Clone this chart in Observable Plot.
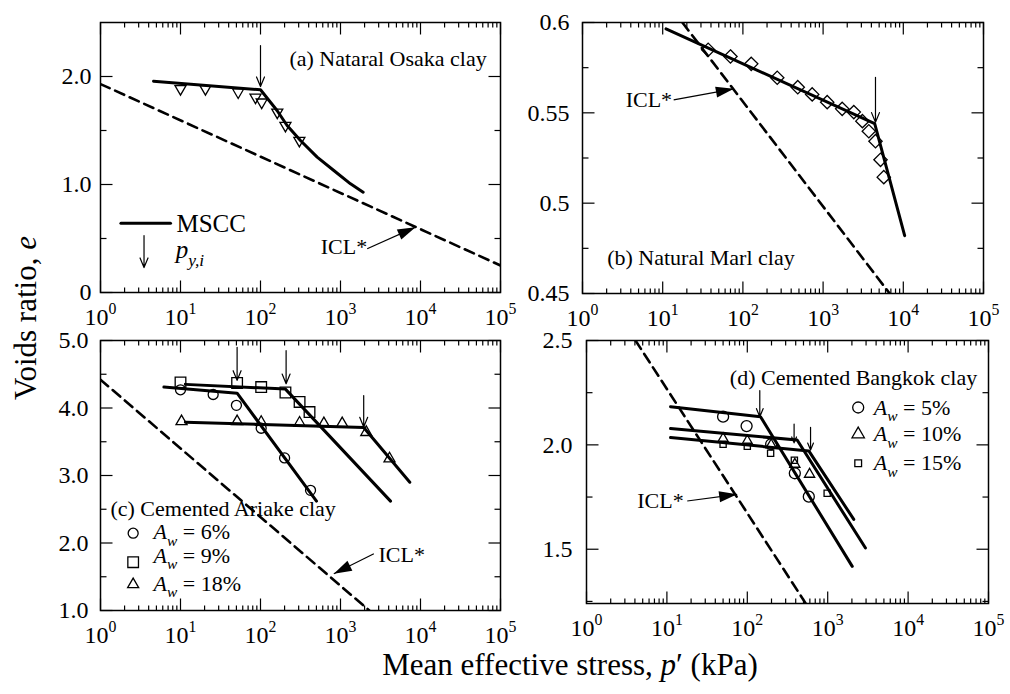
<!DOCTYPE html>
<html>
<head>
<meta charset="utf-8">
<script src="https://cdn.jsdelivr.net/npm/d3@7"></script>
<script src="https://cdn.jsdelivr.net/npm/@observablehq/plot@0.6"></script>
<style>
html, body { margin: 0; padding: 0; background: #fff; }
#fig { position: relative; width: 1010px; height: 694px; overflow: hidden; font-family: "Liberation Serif", "Times New Roman", serif; color: #000; }
.panel { position: absolute; }
.panel svg { overflow: visible; display: block; }
#ylab { position: absolute; left: 26px; top: 318px; transform: translate(-50%, -50%) rotate(-90deg); font-size: 31px; white-space: nowrap; }
#xlab { position: absolute; left: 570px; top: 665px; transform: translate(-50%, -50%); font-size: 31px; white-space: nowrap; }
</style>
</head>
<body>
<div id="fig">
  <div id="ylab">Voids ratio, <i>e</i></div>
  <div id="xlab">Mean effective stress, <i>p</i>′ (kPa)</div>
</div>
<script>
// ================= DATA =================
const decadeTicks = [1, 10, 100, 1000, 10000, 100000];
const decadeLabels = ["10^0", "10^1", "10^2", "10^3", "10^4", "10^5"];

// (a) Natural Osaka clay
const aMsccP = [4.6, 100, 161, 215, 316, 511, 825, 1334, 1920];
const aMsccE = [1.956, 1.877, 1.685, 1.546, 1.407, 1.253, 1.130, 1.006, 0.929];
const aTestP = [10, 20.5, 52.6, 86.6, 103.5, 162, 205, 306];
const aTestE = [1.886, 1.886, 1.855, 1.808, 1.762, 1.669, 1.546, 1.407];
const aIclP = [1, 100000];
const aIclE = [1.93, 0.25];
const aYieldP = [100];
const aYieldFrom = [2.287];
const aYieldTo = [1.907];
const aYTicks = [0, 1, 2];
const aYLabels = ["0", "1.0", "2.0"];
const aYMinor = [0.5, 1.5];

// (b) Natural Marl clay
const bMsccP = [11, 4400, 10400];
const bMsccE = [0.5965, 0.544, 0.482];
const bTestP = [36.9, 70, 127, 268, 483, 731, 1125, 1730, 2415, 3090, 3715, 4500, 5200, 5710];
const bTestE = [0.5849, 0.5812, 0.5771, 0.5694, 0.5642, 0.5602, 0.5559, 0.5522, 0.5504, 0.5454, 0.5398, 0.5343, 0.524, 0.5144];
const bIclP = [17.6, 6760];
const bIclE = [0.6, 0.45];
const bYieldP = [4500];
const bYieldFrom = [0.5697];
const bYieldTo = [0.5448];
const bYTicks = [0.45, 0.5, 0.55, 0.6];
const bYLabels = ["0.45", "0.5", "0.55", "0.6"];
const bYMinor = [0.475, 0.525, 0.575];

// (c) Cemented Ariake clay
const cSeries = ["A_w = 6%", "A_w = 9%", "A_w = 18%"];
const cMscc6P = [6.2, 51, 501];      const cMscc6E = [4.31, 4.22, 2.62];
const cMscc9P = [11.5, 205, 4220];   const cMscc9E = [4.35, 4.28, 2.62];
const cMscc18P = [11.5, 1950, 7350]; const cMscc18E = [3.79, 3.71, 2.90];
const cTest6P = [10, 25.6, 50, 102, 200, 422];
const cTest6E = [4.27, 4.20, 4.04, 3.70, 3.26, 2.78];
const cTest9P = [10, 51, 102, 205, 308, 410];
const cTest9E = [4.38, 4.37, 4.31, 4.23, 4.09, 3.94];
const cTest18P = [10.3, 51, 102, 308, 620, 1050, 2100, 4100];
const cTest18E = [3.80, 3.80, 3.79, 3.78, 3.77, 3.77, 3.64, 3.25];
const cIclP = [1, 2290];
const cIclE = [4.42, 1.0];
const cYieldP = [51, 209, 1950];
const cYieldFrom = [4.90, 4.85, 4.185];
const cYieldTo = [4.41, 4.36, 3.72];
const cYTicks = [1, 2, 3, 4, 5];
const cYLabels = ["1.0", "2.0", "3.0", "4.0", "5.0"];
const cYMinor = [1.5, 2.5, 3.5, 4.5];
const cLegSymE = [2.145, 1.716, 1.385];
const cLegTextE = [2.16, 1.815, 1.396];

// (d) Cemented Bangkok clay
const dSeries = ["A_w = 5%", "A_w = 10%", "A_w = 15%"];
const dMscc5P = [11.1, 146, 2020];   const dMscc5E = [2.183, 2.135, 1.418];
const dMscc10P = [11.1, 417, 2950];  const dMscc10E = [2.078, 2.023, 1.506];
const dMscc15P = [11.1, 582, 2110];  const dMscc15E = [2.035, 1.971, 1.643];
const dTest5P = [50, 98, 198, 390, 582];
const dTest5E = [2.135, 2.09, 2.003, 1.864, 1.752];
const dTest10P = [50, 100, 198, 390, 595];
const dTest10E = [2.03, 2.019, 2.0, 1.907, 1.859];
const dTest15P = [50, 100, 195, 385, 985];
const dTest15E = [2.003, 1.993, 1.96, 1.926, 1.768];
const dIclP = [4.07, 530];
const dIclE = [2.5, 1.242];
const dYieldP = [143, 382, 612];
const dYieldFrom = [2.26, 2.10, 2.084];
const dYieldTo = [2.135, 2.01, 1.975];
const dYTicks = [1.5, 2.0, 2.5];
const dYLabels = ["1.5", "2.0", "2.5"];
const dYMinor = [1.25, 1.75, 2.25];
const dLegE = [2.179, 2.051, 1.912];

// annotation anchors (data coordinates)
const titles = ["(a) Nataral Osaka clay", "(b) Natural Marl clay", "(c) Cemented Ariake clay", "(d) Cemented Bangkok clay"];
const titleP = [230, 2.03, 1.33, 60.6];
const titleE = [2.167, 0.4694, 2.497, 2.322];
const iclTextP = [2155, 13.1, 2985, 16.2];
const iclTextE = [0.426, 0.557, 1.82, 1.732];
const iclAnchor = ["end", "end", "start", "end"];
const iclFromP = [2155, 13.7, 2610, 17.9];
const iclFromE = [0.405, 0.5572, 1.84, 1.731];
const iclTipP = [8660, 77.1, 825, 74.8];
const iclTipE = [0.605, 0.5633, 1.544, 1.763];

// ================= HELPERS =================
const minorTicks = [];
for (const d of [1, 10, 100, 1000, 10000]) for (let k = 2; k <= 9; k++) minorTicks.push(k * d);
const zip = (P, E, extra = {}) => P.map((p, i) => ({p, e: E[i], ...extra}));
const yieldRows = (P, F, T) => P.map((p, i) => ({p, from: F[i], to: T[i]}));

const headSymbol = {
  draw(ctx) { ctx.moveTo(0, 0); ctx.lineTo(5.5, 18); ctx.lineTo(-5.5, 18); ctx.closePath(); }
};

function pxScales(cfg) {
  const sx = d3.scaleLog().domain([1, 1e5]).range([cfg.ml, cfg.w - cfg.mr]);
  const sy = d3.scaleLinear().domain(cfg.yDomain).range([cfg.h - cfg.mb, cfg.mt]);
  return [sx, sy];
}

function iclMarks(cfg, k) {
  const [sx, sy] = pxScales(cfg);
  const dx = sx(iclTipP[k]) - sx(iclFromP[k]);
  const dy = sy(iclTipE[k]) - sy(iclFromE[k]);
  const rot = Math.atan2(dx, -dy) * 180 / Math.PI;
  return [
    Plot.text([{p: iclTextP[k], e: iclTextE[k], t: "ICL*"}], {x: "p", y: "e", text: "t", textAnchor: iclAnchor[k], fontSize: 22}),
    Plot.link([{p1: iclFromP[k], e1: iclFromE[k], p2: iclTipP[k], e2: iclTipE[k]}], {x1: "p1", y1: "e1", x2: "p2", y2: "e2", stroke: "black", strokeWidth: 1.2}),
    Plot.dot([{p: iclTipP[k], e: iclTipE[k]}], {x: "p", y: "e", symbol: headSymbol, rotate: rot, fill: "black", stroke: "none"})
  ];
}

function titleMark(k, anchor = "start") {
  return Plot.text([{p: titleP[k], e: titleE[k], t: titles[k]}], {x: "p", y: "e", text: "t", textAnchor: anchor, fontSize: 22});
}

const lineStyle = {x: "p", y: "e", stroke: "black", strokeWidth: 3, strokeLinejoin: "miter", clip: true};
const iclStyle = {x: "p", y: "e", stroke: "black", strokeWidth: 2.6, strokeDasharray: "10,6", clip: true};
const arrowStyle = {x1: "p", x2: "p", y1: "from", y2: "to", stroke: "black", strokeWidth: 1.2, headLength: 13, headAngle: 45};
const dotStyle = {x: "p", y: "e", stroke: "black", fill: "none", strokeWidth: 1.3};

// inward ticks on all four sides, drawn as short links from the frame edges
function tickMarks(cfg) {
  const [sx, sy] = pxScales(cfg);
  const [y0, y1] = cfg.yDomain;
  const up = L => sy.invert(sy(y0) - L);
  const down = L => sy.invert(sy(y1) + L);
  const right = L => sx.invert(sx(1) + L);
  const left = L => sx.invert(sx(1e5) - L);
  const rows = [];
  for (const t of decadeTicks) {
    rows.push({xa: t, xb: t, ya: y0, yb: up(12)});
    rows.push({xa: t, xb: t, ya: y1, yb: down(12)});
  }
  for (const t of minorTicks) {
    rows.push({xa: t, xb: t, ya: y0, yb: up(5)});
    rows.push({xa: t, xb: t, ya: y1, yb: down(5)});
  }
  for (const t of cfg.yTicks) {
    rows.push({xa: 1, xb: right(12), ya: t, yb: t});
    rows.push({xa: 1e5, xb: left(12), ya: t, yb: t});
  }
  for (const t of cfg.yMinor) {
    rows.push({xa: 1, xb: right(6), ya: t, yb: t});
    rows.push({xa: 1e5, xb: left(6), ya: t, yb: t});
  }
  return Plot.link(rows, {x1: "xa", x2: "xb", y1: "ya", y2: "yb", stroke: "black", strokeWidth: 1.2});
}

function tickLabels(cfg) {
  const fmtY = d => cfg.yLabels[cfg.yTicks.indexOf(d)];
  const fmtX = d => decadeLabels[decadeTicks.indexOf(d)];
  return [
    Plot.axisX({anchor: "bottom", ticks: decadeTicks, tickSize: 0, tickPadding: 15, tickFormat: fmtX, label: null}),
    Plot.axisY({anchor: "left", ticks: cfg.yTicks, tickSize: 0, tickPadding: cfg.padY, tickFormat: fmtY, label: null}),
    Plot.frame({stroke: "black", strokeWidth: 1.5})
  ];
}

function enrich(svg) {
  for (const t of svg.querySelectorAll("text")) {
    const s = t.textContent;
    const fs = parseFloat(getComputedStyle(t).fontSize) || 22;
    let m;
    if ((m = /^10\^(\d)$/.exec(s))) {
      t.innerHTML = `10<tspan dy="${(-0.42 * fs).toFixed(1)}" font-size="${(0.66 * fs).toFixed(1)}">${m[1]}</tspan>`;
    } else if ((m = /^([A-Za-z])_\{?([^}\s]+)\}?(.*)$/.exec(s))) {
      const d = (0.3 * fs).toFixed(1);
      let html = `<tspan font-style="italic">${m[1]}</tspan><tspan font-style="italic" font-size="${(0.7 * fs).toFixed(1)}" dy="${d}">${m[2]}</tspan>`;
      if (m[3]) html += `<tspan dy="${-d}">${m[3].replace(/ /g, "\u00a0")}</tspan>`;
      t.innerHTML = html;
    }
  }
}

function render(cfg, marks) {
  const chart = Plot.plot({
    width: cfg.w, height: cfg.h,
    marginLeft: cfg.ml, marginRight: cfg.mr, marginTop: cfg.mt, marginBottom: cfg.mb,
    style: {fontFamily: "'Liberation Serif', 'Times New Roman', serif", fontSize: "24px", background: "transparent", overflow: "visible", color: "black"},
    x: {type: "log", domain: [1, 1e5], axis: null},
    y: {type: "linear", domain: cfg.yDomain, axis: null},
    marks: [tickMarks(cfg), ...marks, ...tickLabels(cfg)]
  });
  const div = document.createElement("div");
  div.className = "panel";
  div.style.left = cfg.left + "px";
  div.style.top = cfg.top + "px";
  div.appendChild(chart);
  document.getElementById("fig").appendChild(div);
  enrich(chart);
}

// ================= PANELS =================
const cfgA = {left: 0, top: 0, w: 520, h: 330, ml: 100, mr: 20, mt: 22, mb: 38, yDomain: [0, 2.5], yTicks: aYTicks, yLabels: aYLabels, yMinor: aYMinor, padY: 9};
const cfgB = {left: 520, top: 0, w: 490, h: 330, ml: 62, mr: 27, mt: 22, mb: 37, yDomain: [0.45, 0.6], yTicks: bYTicks, yLabels: bYLabels, yMinor: bYMinor, padY: 13};
const cfgC = {left: 0, top: 330, w: 520, h: 320, ml: 100, mr: 20, mt: 10, mb: 40, yDomain: [1, 5], yTicks: cYTicks, yLabels: cYLabels, yMinor: cYMinor, padY: 12};
const cfgD = {left: 520, top: 330, w: 490, h: 320, ml: 66, mr: 22, mt: 10, mb: 47, yDomain: [1.24, 2.5], yTicks: dYTicks, yLabels: dYLabels, yMinor: dYMinor, padY: 14};

// (a)
render(cfgA, [
  Plot.line(zip(aIclP, aIclE), iclStyle),
  Plot.line(zip(aMsccP, aMsccE), lineStyle),
  Plot.dot(zip(aTestP, aTestE), {...dotStyle, symbol: "triangle", rotate: 180, r: 4.1}),
  Plot.arrow(yieldRows(aYieldP, aYieldFrom, aYieldTo), arrowStyle),
  titleMark(0),
  ...iclMarks(cfgA, 0),
  // legend
  Plot.line(zip([1.8, 7.5], [0.642, 0.642]), lineStyle),
  Plot.text([{p: 8.9, e: 0.63, t: "MSCC"}], {x: "p", y: "e", text: "t", textAnchor: "start", fontSize: 25}),
  Plot.arrow(yieldRows([3.5], [0.528], [0.231]), arrowStyle),
  Plot.text([{p: 8.7, e: 0.39, t: "p_{y,i}"}], {x: "p", y: "e", text: "t", textAnchor: "start", fontSize: 25})
]);

// (b)
render(cfgB, [
  Plot.line(zip(bIclP, bIclE), iclStyle),
  Plot.line(zip(bMsccP, bMsccE), lineStyle),
  Plot.dot(zip(bTestP, bTestE), {...dotStyle, symbol: "diamond2", r: 6}),
  Plot.arrow(yieldRows(bYieldP, bYieldFrom, bYieldTo), arrowStyle),
  titleMark(1),
  ...iclMarks(cfgB, 1)
]);

// (c)
render(cfgC, [
  Plot.line(zip(cIclP, cIclE), iclStyle),
  Plot.line([...zip(cMscc6P, cMscc6E, {s: cSeries[0]}), ...zip(cMscc9P, cMscc9E, {s: cSeries[1]}), ...zip(cMscc18P, cMscc18E, {s: cSeries[2]})], {...lineStyle, z: "s"}),
  Plot.dot(zip(cTest6P, cTest6E), {...dotStyle, symbol: "circle", r: 5}),
  Plot.dot(zip(cTest9P, cTest9E), {...dotStyle, symbol: "square", r: 6}),
  Plot.dot(zip(cTest18P, cTest18E), {...dotStyle, symbol: "triangle", r: 4.1}),
  Plot.arrow(yieldRows(cYieldP, cYieldFrom, cYieldTo), arrowStyle),
  titleMark(2),
  ...iclMarks(cfgC, 2),
  // legend
  Plot.dot([{p: 2.56, e: cLegSymE[0]}], {...dotStyle, symbol: "circle", r: 5}),
  Plot.dot([{p: 2.56, e: cLegSymE[1]}], {...dotStyle, symbol: "square", r: 6}),
  Plot.dot([{p: 2.56, e: cLegSymE[2]}], {...dotStyle, symbol: "triangle", r: 4.1}),
  Plot.text(zip([4.6, 4.6, 4.6], cLegTextE).map((d, i) => ({...d, t: cSeries[i]})), {x: "p", y: "e", text: "t", textAnchor: "start", fontSize: 22})
]);

// (d)
render(cfgD, [
  Plot.line(zip(dIclP, dIclE), iclStyle),
  Plot.line([...zip(dMscc5P, dMscc5E, {s: dSeries[0]}), ...zip(dMscc10P, dMscc10E, {s: dSeries[1]}), ...zip(dMscc15P, dMscc15E, {s: dSeries[2]})], {...lineStyle, z: "s"}),
  Plot.dot(zip(dTest5P, dTest5E), {...dotStyle, symbol: "circle", r: 5.5}),
  Plot.dot(zip(dTest10P, dTest10E), {...dotStyle, symbol: "triangle", r: 3.8}),
  Plot.dot(zip(dTest15P, dTest15E), {...dotStyle, symbol: "square", r: 3.5}),
  Plot.arrow(yieldRows(dYieldP, dYieldFrom, dYieldTo), arrowStyle),
  titleMark(3),
  ...iclMarks(cfgD, 3),
  // legend
  Plot.dot([{p: 2395, e: dLegE[0]}], {...dotStyle, symbol: "circle", r: 5.5}),
  Plot.dot([{p: 2395, e: dLegE[1]}], {...dotStyle, symbol: "triangle", r: 4.6}),
  Plot.dot([{p: 2395, e: dLegE[2]}], {...dotStyle, symbol: "square", r: 3.8}),
  Plot.text(zip([3745, 3745, 3745], dLegE).map((d, i) => ({...d, t: dSeries[i]})), {x: "p", y: "e", text: "t", textAnchor: "start", fontSize: 22})
]);
</script>
</body>
</html>
